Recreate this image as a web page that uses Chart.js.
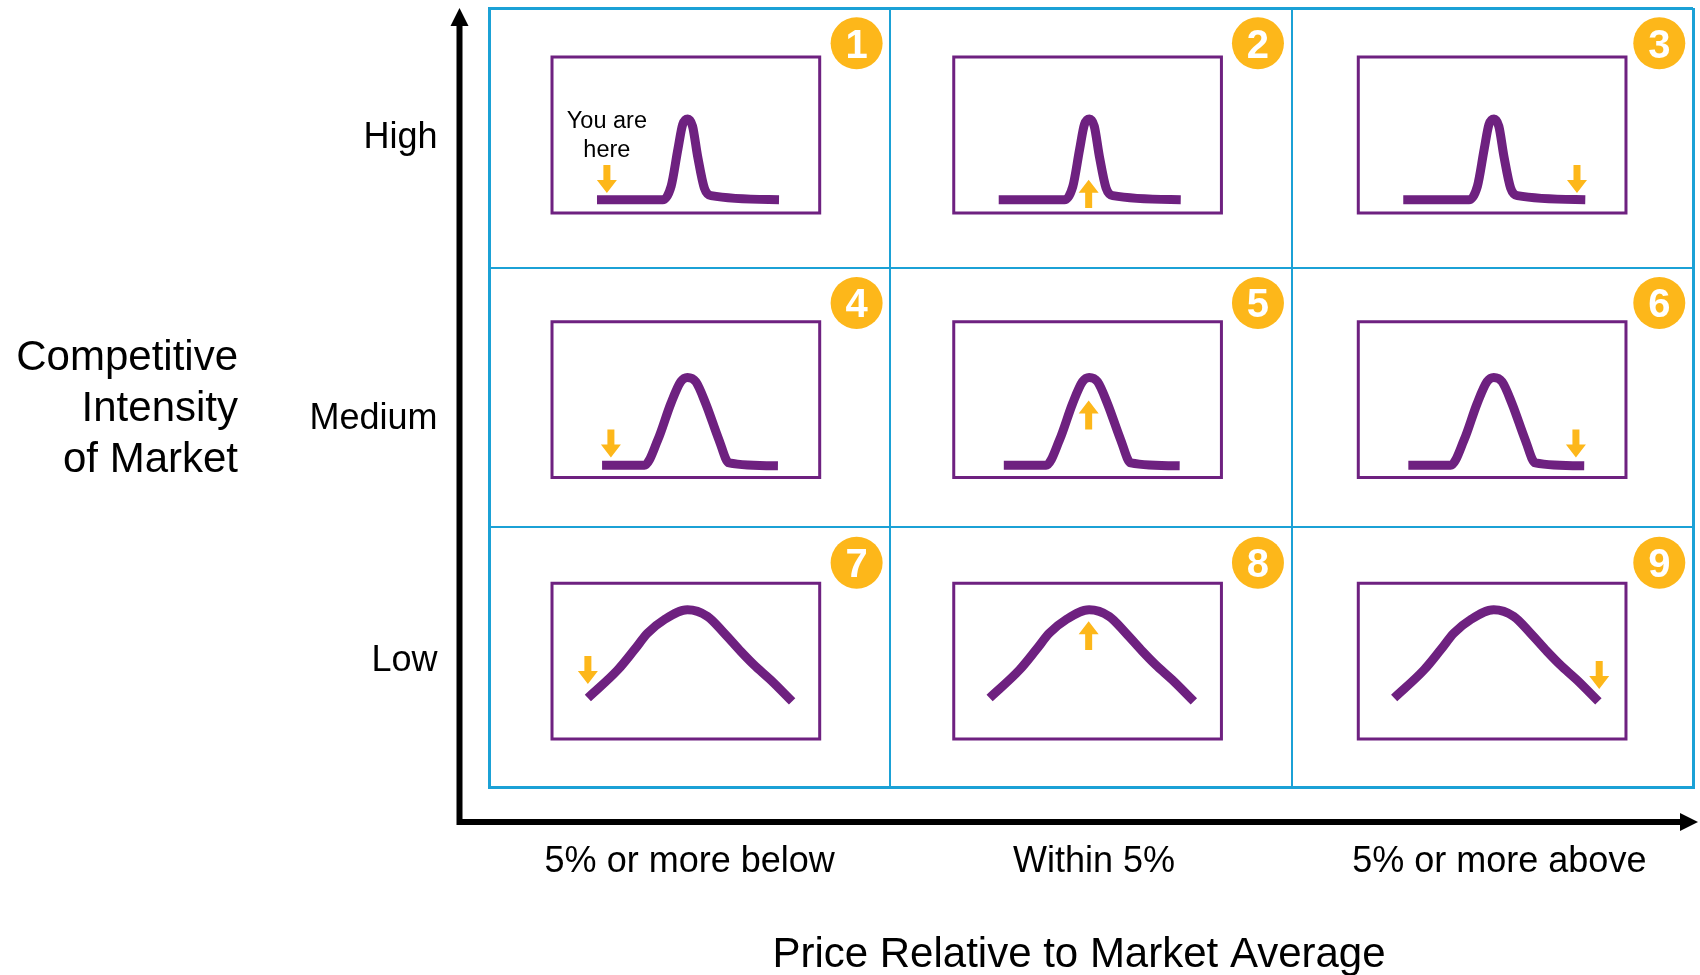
<!DOCTYPE html>
<html>
<head>
<meta charset="utf-8">
<script src="https://cdn.jsdelivr.net/npm/chart.js@4.4.1/dist/chart.umd.min.js"></script>
<style>
  html, body { margin: 0; padding: 0; background: #ffffff; }
  #wrap { width: 1700px; height: 975px; position: relative; }
</style>
</head>
<body>
<div id="wrap"><canvas id="c" width="1700" height="975"></canvas></div>
<script>
// ---------------- DATA ----------------
const xCategories = ['5% or more below', 'Within 5%', '5% or more above'];
const yCategories = ['High', 'Medium', 'Low'];            // rows, top to bottom
const xAxisTitle = 'Price Relative to Market Average';
const yAxisTitle = ['Competitive', 'Intensity', 'of Market'];
const cellNumbers = [1, 2, 3, 4, 5, 6, 7, 8, 9];
const youAreHere = ['You are', 'here'];

// Price distribution curves (in % of the mini-chart frame: x = price, y = frequency)
const highCurveX   = [16.8, 41.4, 44.5, 47.0, 48.8, 50.7, 52.5, 54.4, 56.9, 59.4, 84.8];
const highCurveY   = [ 8.5,  8.5, 17.1, 40.6, 56.6, 60.3, 55.6, 36.3, 16.0, 11.1,  8.5];
const mediumCurveX = [18.7, 34.5, 39.5, 44.4, 48.1, 50.6, 53.7, 57.4, 62.4, 66.1, 84.4];
const mediumCurveY = [ 7.9,  7.9, 24.0, 47.5, 61.5, 64.2, 61.5, 47.5, 24.0,  9.4,  7.5];
const lowCurveX    = [13.4, 24.6, 30.8, 35.7, 41.9, 50.6, 58.1, 64.3, 70.5, 75.4, 81.6, 89.7];
const lowCurveY    = [26.3, 44.4, 57.3, 67.9, 76.5, 82.9, 78.6, 67.9, 56.2, 47.6, 38.0, 24.1];

// "You are here" marker per cell (in % of the frame): position, tail and tip of the arrow
const markerX    = [20.5, 50.4, 81.7, 22.0, 50.4, 81.3, 13.4, 50.4, 90.0];
const markerTail = [30.8,  3.2, 30.8, 30.8, 30.8, 30.8, 53.2, 57.1, 50.0];
const markerTip  = [12.8, 21.2, 12.8, 12.8, 49.4, 12.8, 35.3, 75.6, 32.1];

// ---------------- STYLE / LAYOUT ----------------
const BLUE = '#1BA1D6';
const PURPLE = '#6E2180';
const ORANGE = '#FDB71A';
const FONT = '"Liberation Sans", Arial, Helvetica, sans-serif';
const FRAME = { left: [0.157, 0.158, 0.166], width: 0.667, top: [0.189, 0.208, 0.215], height: 0.6 };
const yLabelNudge = [-3, 18, 1];
const xLabelNudge = [0, 3, 7];

const curves = [
  highCurveX.map((v, i) => [v, highCurveY[i]]),
  mediumCurveX.map((v, i) => [v, mediumCurveY[i]]),
  lowCurveX.map((v, i) => [v, lowCurveY[i]])
];

function toChart(col, row, px, py) {
  return {
    x: col + FRAME.left[col] + px / 100 * FRAME.width,
    y: 3 - row - FRAME.top[row] - FRAME.height + py / 100 * FRAME.height
  };
}

const datasets = [];
for (let i = 0; i < 9; i++) {
  const r = Math.floor(i / 3), c = i % 3;
  datasets.push({
    data: [[0, 0], [100, 0], [100, 100], [0, 100], [0, 0], [100, 0]].map(p => toChart(c, r, p[0], p[1])),
    borderColor: PURPLE, borderWidth: 3, tension: 0, pointRadius: 0,
    borderJoinStyle: 'miter', fill: false
  });
  datasets.push({
    data: curves[r].map(p => toChart(c, r, p[0], p[1])),
    borderColor: PURPLE, borderWidth: 9, cubicInterpolationMode: 'monotone',
    pointRadius: 0, borderCapStyle: 'butt', borderJoinStyle: 'round', fill: false
  });
}

function drawArrow(ctx, xp, tailY, tipY) {
  const dir = Math.sign(tipY - tailY);
  const headLen = 13, headW = 10, shaftW = 3.5;
  const baseY = tipY - dir * headLen;
  ctx.beginPath();
  ctx.moveTo(xp - shaftW, tailY);
  ctx.lineTo(xp + shaftW, tailY);
  ctx.lineTo(xp + shaftW, baseY);
  ctx.lineTo(xp + headW, baseY);
  ctx.lineTo(xp, tipY);
  ctx.lineTo(xp - headW, baseY);
  ctx.lineTo(xp - shaftW, baseY);
  ctx.closePath();
  ctx.fill();
}

const overlay = {
  id: 'overlay',
  afterDraw(chart) {
    const { ctx, chartArea: a, scales: { x, y } } = chart;
    ctx.save();

    // Axis arrows
    const L = a.left - 29.5;
    const B = a.bottom + 35;
    ctx.strokeStyle = '#000'; ctx.fillStyle = '#000'; ctx.lineWidth = 6;
    ctx.beginPath();
    ctx.moveTo(L, B + 3); ctx.lineTo(L, a.top + 14);
    ctx.moveTo(L - 3, B); ctx.lineTo(a.right + 5 - 14, B);
    ctx.stroke();
    ctx.beginPath();
    ctx.moveTo(L, a.top); ctx.lineTo(L + 9, a.top + 18); ctx.lineTo(L - 9, a.top + 18); ctx.closePath();
    ctx.fill();
    ctx.beginPath();
    ctx.moveTo(a.right + 5, B); ctx.lineTo(a.right + 5 - 18, B - 9); ctx.lineTo(a.right + 5 - 18, B + 9); ctx.closePath();
    ctx.fill();

    // Category labels
    ctx.fillStyle = '#000';
    ctx.font = '36px ' + FONT;
    ctx.textAlign = 'right'; ctx.textBaseline = 'alphabetic';
    yCategories.forEach((t, r) => {
      const cy = (y.getPixelForValue(3 - r) + y.getPixelForValue(2 - r)) / 2;
      ctx.fillText(t, L - 22, cy + 13 + yLabelNudge[r]);
    });
    ctx.textAlign = 'center';
    xCategories.forEach((t, c) => {
      const cx = (x.getPixelForValue(c) + x.getPixelForValue(c + 1)) / 2;
      ctx.fillText(t, cx + xLabelNudge[c], B + 50);
    });

    // Axis titles
    ctx.font = '42px ' + FONT;
    ctx.textAlign = 'center';
    ctx.fillText(xAxisTitle, (a.left + a.right) / 2 - 12, B + 145);
    ctx.textAlign = 'right';
    yAxisTitle.forEach((t, k) => ctx.fillText(t, 238, 370 + k * 51));

    // Markers and badges
    for (let i = 0; i < 9; i++) {
      const r = Math.floor(i / 3), c = i % 3;
      const tail = toChart(c, r, markerX[i], markerTail[i]);
      const tip = toChart(c, r, markerX[i], markerTip[i]);
      const xp = x.getPixelForValue(tail.x);
      const tailY = y.getPixelForValue(tail.y);
      const tipY = y.getPixelForValue(tip.y);
      ctx.fillStyle = ORANGE;
      drawArrow(ctx, xp, tailY, tipY);

      if (i === 0) {
        ctx.fillStyle = '#000';
        ctx.font = '23.5px ' + FONT;
        ctx.textAlign = 'center';
        ctx.fillText(youAreHere[0], xp, tailY - 37);
        ctx.fillText(youAreHere[1], xp, tailY - 8);
      }

      const x0 = x.getPixelForValue(c), x1 = x.getPixelForValue(c + 1);
      const y0 = y.getPixelForValue(3 - r), y1 = y.getPixelForValue(2 - r);
      const bx = x0 + (x1 - x0) * 0.916;
      const by = y0 + (y1 - y0) * 0.136;
      ctx.fillStyle = ORANGE;
      ctx.beginPath(); ctx.arc(bx, by, 26, 0, Math.PI * 2); ctx.fill();
      ctx.fillStyle = '#fff';
      ctx.font = 'bold 40px ' + FONT;
      ctx.textAlign = 'center';
      ctx.fillText(String(cellNumbers[i]), bx, by + 14.5);
    }
    ctx.restore();
  }
};

new Chart(document.getElementById('c'), {
  type: 'line',
  data: { datasets },
  options: {
    responsive: false,
    animation: false,
    devicePixelRatio: 1,
    events: [],
    layout: { padding: { left: 489, right: 7, top: 8, bottom: 188 } },
    plugins: { legend: { display: false }, tooltip: { enabled: false } },
    elements: { point: { radius: 0, hoverRadius: 0 } },
    scales: {
      x: {
        type: 'linear', min: 0, max: 3,
        ticks: { display: false, stepSize: 1 },
        grid: { color: BLUE, drawTicks: false,
                lineWidth: ctx => (ctx.tick && (ctx.tick.value === 0 || ctx.tick.value === 3)) ? 3 : 2 },
        border: { display: true, color: BLUE, width: 3 }
      },
      y: {
        type: 'linear', min: 0, max: 3,
        ticks: { display: false, stepSize: 1 },
        grid: { color: BLUE, drawTicks: false,
                lineWidth: ctx => (ctx.tick && (ctx.tick.value === 0 || ctx.tick.value === 3)) ? 3 : 2 },
        border: { display: true, color: BLUE, width: 3 }
      }
    }
  },
  plugins: [overlay]
});
</script>
</body>
</html>
